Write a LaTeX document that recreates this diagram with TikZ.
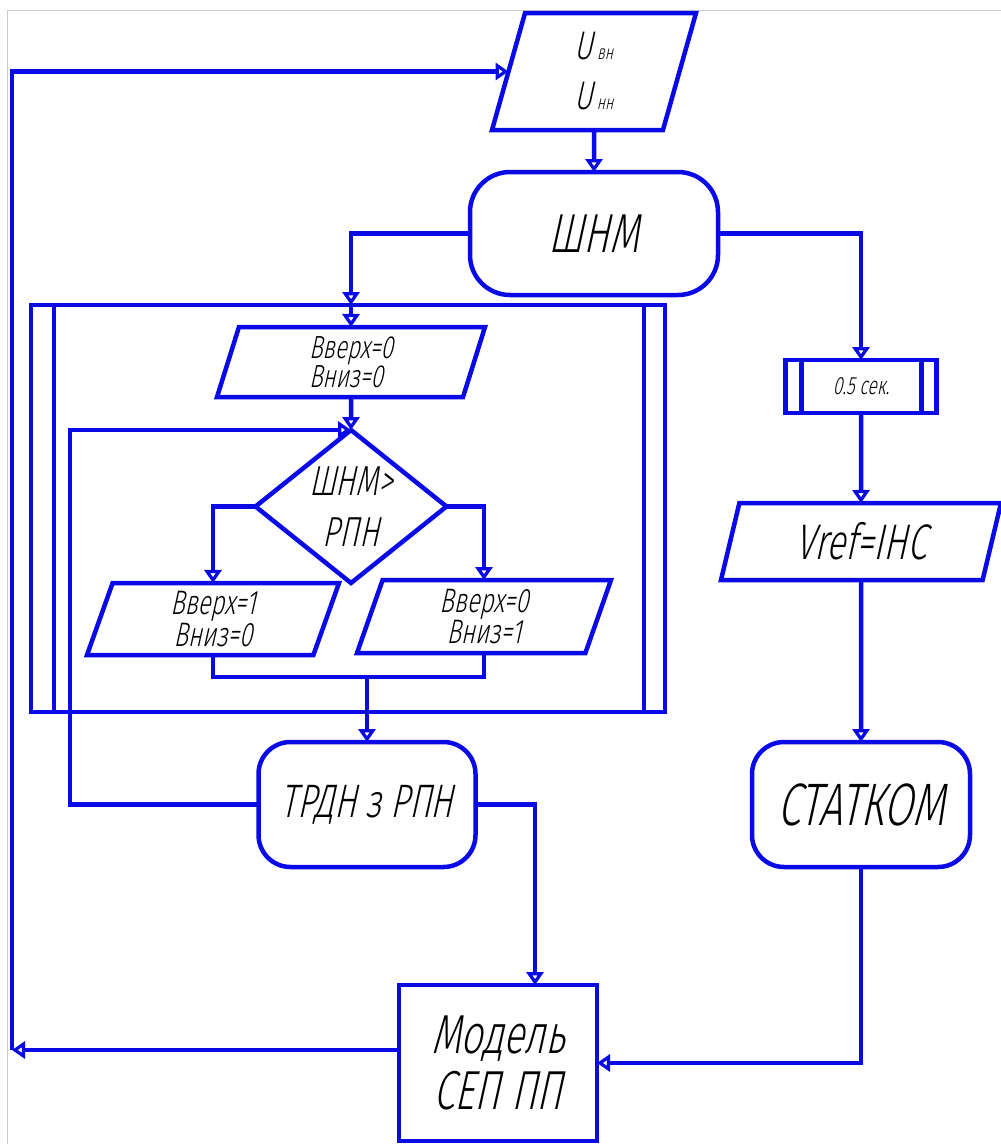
\documentclass[tikz,border=0pt]{standalone}
\usepackage{fontspec}
\usepackage{tikz}
\usetikzlibrary{arrows.meta,positioning,calc,shapes.geometric}
\newfontfamily\gost[FakeSlant=0.22,FakeStretch=0.7]{Fira Sans Light}
\definecolor{flowblue}{RGB}{10,10,230}
\newcommand\txt[2]{\fontsize{#1}{#2}\selectfont}
\newcommand\usub[1]{U\kern4pt{\txt{20}{20}#1}}

\begin{document}
\begin{tikzpicture}[
  x=1pt, y=-1pt,
  block/.style={draw=flowblue, line width=4.5pt, fill=white, inner sep=0pt,
    outer sep=0pt, align=center, font=\gost},
  io/.style={block, trapezium, trapezium left angle=65,
    trapezium right angle=115, trapezium stretches body},
  term/.style={block, rectangle, rounded corners=32pt},
  proc/.style={block, rectangle},
  cond/.style={block, diamond, inner sep=-15pt},
  flow/.style={-{Triangle[open,length=13pt,width=17pt]}, draw=flowblue, line width=4.5pt},
  link/.style={draw=flowblue, line width=4.5pt}
]
  \useasboundingbox (0,0) rectangle (1001,1144);
  \draw[black!20, line width=1pt] (7,1144) -- (7,10) -- (1001,10);

  % loop frame
  \node[proc, minimum width=634pt, minimum height=407pt] (loop) at (348,508.5) {};
  \draw[link] ([xshift=23pt]loop.north west) -- ([xshift=23pt]loop.south west);
  \draw[link] ([xshift=-21pt]loop.north east) -- ([xshift=-21pt]loop.south east);

  \node[io, trapezium left angle=67, trapezium right angle=113,
    minimum width=204pt, minimum height=117pt, font=\gost\txt{40}{50}]
    (inp) at (594,71.5) {\usub{вн}\\\usub{нн}};
  \node[term, rounded corners=40pt, minimum width=248pt, minimum height=123pt,
    font=\gost\txt{55}{60}] (shnm) at (594,233.5) {ШНМ};

  \node[io, trapezium left angle=67, trapezium right angle=113,
    minimum width=268pt, minimum height=70pt, align=left,
    font=\gost\txt{32}{28}] (init) at (351,362) {Вверх=0\\Вниз=0};
  \node[cond, minimum width=191pt, minimum height=153pt,
    font=\gost\txt{42}{51}] (cmp) at (351,506.5) {ШНМ>\\РПН};
  \node[io, minimum width=252pt, minimum height=72pt,
    font=\gost\txt{34}{30}] (up) at (213,619) {Вверх=1\\Вниз=0};
  \node[io, minimum width=254pt, minimum height=73pt,
    font=\gost\txt{34}{30}] (dn) at (484,616.5) {Вверх=0\\Вниз=1};

  \node[term, minimum width=217pt, minimum height=125pt,
    font=\gost\txt{47}{50}] (trdn) at (367,804.5) {ТРДН з РПН};
  \node[proc, minimum width=198pt, minimum height=156pt,
    font=\gost\txt{55}{56}] (model) at (498,1063) {Модель\\СЕП ПП};

  % right branch
  \node[proc, minimum width=151pt, minimum height=53pt,
    font=\gost\txt{25}{30}] (delay) at (861,386.5) {0.5 сек.};
  \draw[link] ([xshift=16pt]delay.north west) -- ([xshift=16pt]delay.south west);
  \draw[link] ([xshift=-15pt]delay.north east) -- ([xshift=-15pt]delay.south east);
  \node[io, trapezium left angle=64, trapezium right angle=116,
    minimum width=280pt, minimum height=77pt,
    font=\gost\txt{50}{60}] (vref) at (861,541.5) {Vref=IHC};
  \node[term, minimum width=218pt, minimum height=125pt,
    font=\gost\txt{60}{60}] (statcom) at (861,804.5) {СТАТКОМ};

  \coordinate (fbl) at (12,1050);
  \coordinate (lp) at (70,430);
  \coordinate (mrg) at (367,677);

  \draw[flow] (inp.south) -- (shnm.north);
  \draw[flow] (shnm.west) -| (init.north |- loop.north);
  \draw[flow] (init.north |- loop.north) -- (init.north);
  \draw[flow] (init.south) -- (cmp.north);
  \draw[flow] (cmp.west) -| (up.north);
  \draw[flow] (cmp.east) -| (dn.north);
  \draw[link] (up.south) |- (mrg) -| (dn.south);
  \draw[flow] (mrg) -- (trdn.north);
  \draw[flow] (trdn.west) -| (lp) -- (cmp.north);
  \draw[flow] (trdn.east) -| ([xshift=37pt]model.north);

  \draw[flow] (shnm.east) -| (delay.north);
  \draw[flow] (delay.south) -- (vref.north);
  \draw[flow] (vref.south) -- (statcom.north);
  \draw[flow] (statcom.south) |- (model.east);

  \draw[flow] ([yshift=13pt]model.west) -- (fbl);
  \draw[flow] (fbl) |- (inp.west);
\end{tikzpicture}
\end{document}
